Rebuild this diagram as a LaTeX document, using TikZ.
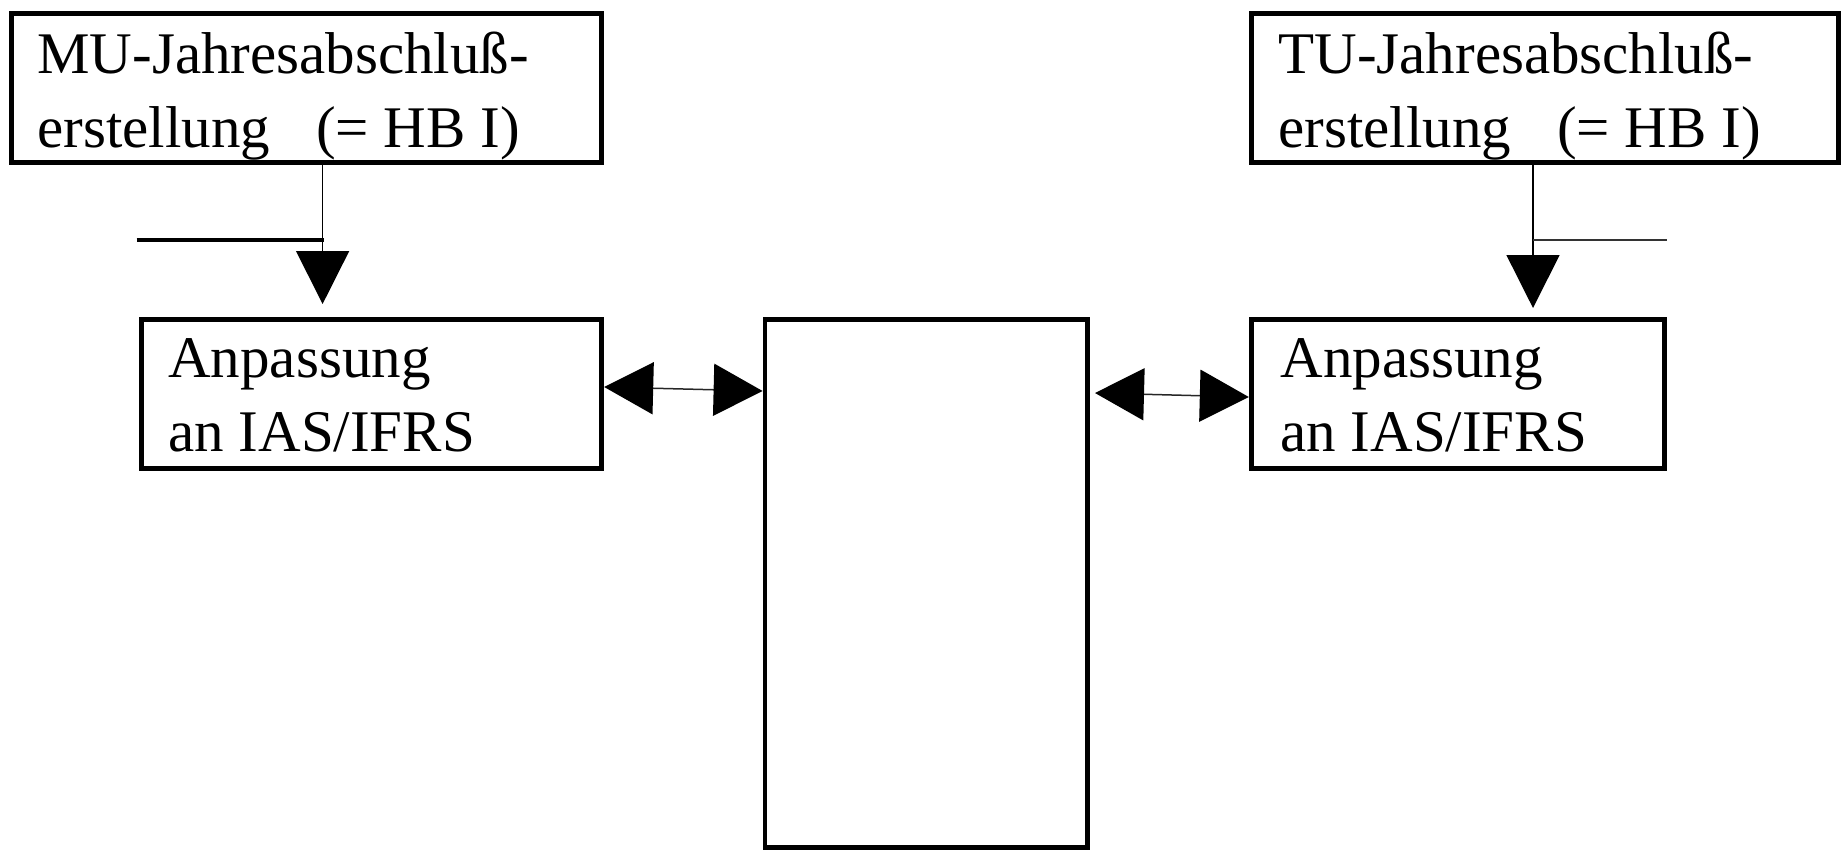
\documentclass[tikz,border=0pt]{standalone}
\usepackage{fontspec}
\setmainfont{Liberation Serif}
\usetikzlibrary{arrows.meta}
\begin{document}
\begin{tikzpicture}[x=0.5pt,y=-0.5pt,
  box/.style={draw, line width=2.7pt, inner sep=0pt, minimum height=74.5pt},
  lbl/.style={anchor=base west, inner sep=0pt, font=\fontsize{29.5}{36}\selectfont},
  down/.style={line width=0.75pt, -{Triangle[length=26.5pt,width=26.5pt]}},
  dbl/.style={line width=0.75pt, draw=black!85, {Triangle[length=24.5pt,width=26pt,color=black]}-{Triangle[length=24.5pt,width=26pt,color=black]}},
  thinline/.style={line width=0.6pt, draw=black!80},
  thickline/.style={line width=2pt}
]
\useasboundingbox (0,0) rectangle (1846,851);

% boxes
\node[box, minimum width=295pt]   (mu) at (306.5,88) {};
\node[box, minimum width=293.5pt] (tu) at (1545,88) {};
\node[box, minimum width=230pt]   (la) at (371.5,394) {};
\node[box, minimum width=206.5pt] (ra) at (1458,394) {};
\node[box, line width=2.4pt, minimum width=161.25pt, minimum height=264pt] (c) at (926.25,583.5) {};

% texts
\node[lbl] (mu1) at (37,73)  {MU-Jahresabschluß-};
\node[lbl] (mu2) at (37,147) {erstellung\hspace{23pt}(= HB I)};
\node[lbl] (tu1) at (1278,73)  {TU-Jahresabschluß-};
\node[lbl] (tu2) at (1278,147) {erstellung\hspace{23pt}(= HB I)};
\node[lbl] (la1) at (168,377) {Anpassung};
\node[lbl] (la2) at (168,451) {an IAS/IFRS};
\node[lbl] (ra1) at (1280,377) {Anpassung};
\node[lbl] (ra2) at (1280,451) {an IAS/IFRS};

% vertical arrows
\coordinate (t1) at (322.6,304);
\coordinate (t2) at (1533,308);
\draw[down] (mu.south -| t1) -- (t1);
\draw[down] (tu.south -| t2) -- (t2);

% side lines
\coordinate (h1a) at (136.6,240);
\coordinate (h1b) at (324,240);
\draw[thickline] (h1a) -- (h1b);
\coordinate (h2a) at (1533,240);
\coordinate (h2b) at (1667,240);
\draw[thinline] (h2a) -- (h2b);

% double arrows
\coordinate (ya) at (0,387);
\coordinate (yb) at (0,391);
\coordinate (yc) at (0,393);
\coordinate (yd) at (0,397);
\coordinate (rc) at (1095,393);
\draw[dbl] (la.east |- ya) -- (c.west |- yb);
\draw[dbl] (rc) -- (ra.west |- yd);
\end{tikzpicture}
\end{document}
